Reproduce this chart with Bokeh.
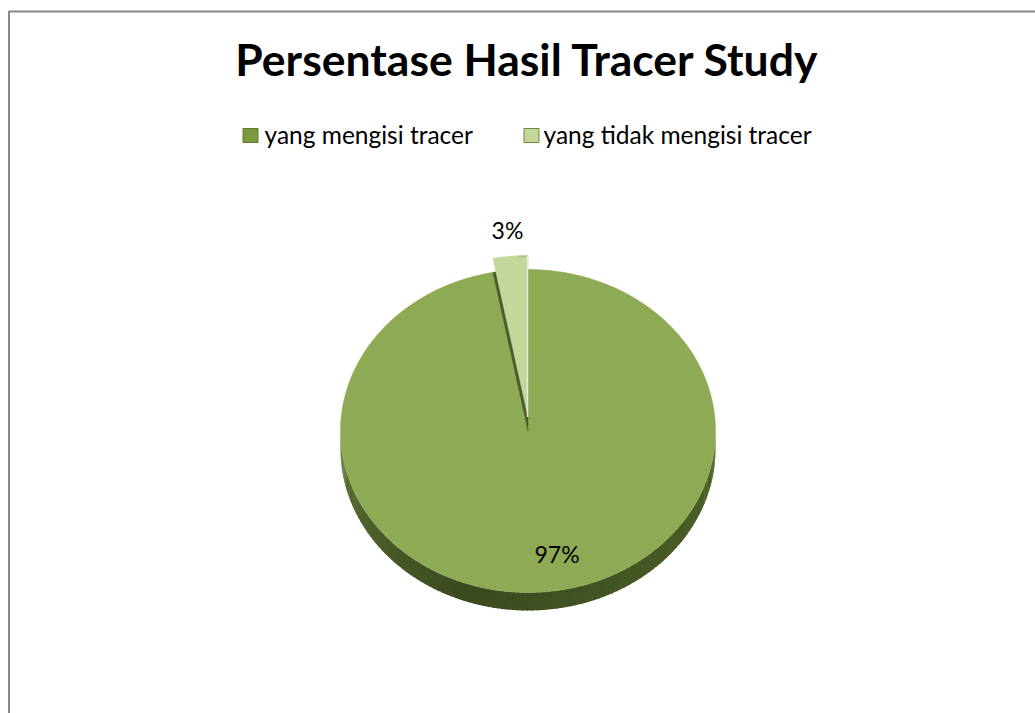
import numpy as np
from bokeh.plotting import figure
from bokeh.models import Range1d
from bokeh.core.properties import value
from bokeh.embed import file_html
from bokeh.resources import INLINE

# ---- data ----
title = "Persentase Hasil Tracer Study"
categories = ["yang mengisi tracer", "yang tidak mengisi  tracer"]
values = [97, 3]
labels = ["97%", "3%"]

# ---- style / layout ----
W, H = 1035, 713
top_colors = ["#8faa55", "#c4d79b"]
legend_fill = ["#7b9a40", "#c4d79b"]
legend_line = ["#5f7a2e", "#6f8a3a"]
FONT = "Lato"

cx, cy, rx, ry, depth = 527.5, 430.5, 187.5, 161.5, 18
explode = [0, 14]

p = figure(width=W, height=H, output_backend="svg", toolbar_location=None,
           x_range=Range1d(0, W), y_range=Range1d(H, 0),
           min_border=0, outline_line_color=None)
p.axis.visible = False
p.grid.visible = False
p.background_fill_color = "white"
p.border_fill_color = "white"

# chart area border (top and left visible)
p.line([8.5, 8.5, W], [H, 11, 11], line_color="#878787", line_width=2)

def pt(t_deg, dy=0.0):
    t = np.radians(t_deg)
    return cx + rx * np.sin(t), cy - ry * np.cos(t) + dy

total = float(sum(values))
cum = np.cumsum([0] + values) / total * 360.0
starts, ends = cum[:-1], cum[1:]

def mix(c1, c2, f):
    a = [int(c1[i:i + 2], 16) for i in (1, 3, 5)]
    b = [int(c2[i:i + 2], 16) for i in (1, 3, 5)]
    f = min(max(f, 0.0), 1.0)
    return "#%02x%02x%02x" % tuple(int(round(a[k] + (b[k] - a[k]) * f)) for k in range(3))

# side band (front half of the pie) with shading
nseg = 120
ts = np.linspace(90, 270, nseg + 1)
xs_side, ys_side, cols_side = [], [], []
for i in range(nseg):
    t0, t1 = ts[i], ts[i + 1] + 0.4
    tm = 0.5 * (ts[i] + ts[i + 1])
    seg = np.linspace(t0, min(t1, 270), 4)
    x_top, y_top = pt(seg)
    xs_side.append(list(x_top) + list(x_top[::-1]))
    ys_side.append(list(y_top) + list((y_top + depth)[::-1]))
    if tm < 200:
        c = mix("#4f6328", "#3c4a1f", (tm - 90) / 110)
    else:
        c = mix("#3c4a1f", "#5c7232", (tm - 200) / 70)
    cols_side.append(c)
p.patches(xs_side, ys_side, fill_color=cols_side, line_color=None)

# top surface of the main slice
for i, (s, e) in enumerate(zip(starts, ends)):
    if explode[i] == 0:
        arc = np.linspace(s, e, 240)
        ax, ay = pt(arc)
        p.patch([cx] + list(ax), [cy] + list(ay), fill_color=top_colors[i],
                line_color=top_colors[i], line_width=0.5)

# exploded slices: dark gap underneath, then lifted slice
for i, (s, e) in enumerate(zip(starts, ends)):
    if explode[i] != 0:
        arc = np.linspace(s, e, 40)
        ax, ay = pt(arc)
        p.patch([cx] + list(ax), [cy] + list(ay), fill_color="#4a5a2a",
                line_color="#4a5a2a", line_width=0.5)
        ax2, ay2 = pt(arc, -explode[i])
        p.patch([cx] + list(ax2), [cy - explode[i]] + list(ay2),
                fill_color=top_colors[i], line_color=top_colors[i], line_width=0.5)
        p.line(list(ax2[-12:]), list(ay2[-12:] + 1.0), line_color="#b4c48e", line_width=2)
        ex, ey = pt(e, -explode[i])
        p.line([cx - 0.5, ex - 0.5], [cy - explode[i], ey], line_color="#e2ead0", line_width=1.5)

# data labels
lab_factor = [0.768, 1.166]
lab_dx = [15.5, 0]
for i, (s, e) in enumerate(zip(starts, ends)):
    m = np.radians(0.5 * (s + e))
    lx = cx + lab_factor[i] * rx * np.sin(m) + lab_dx[i]
    ly = cy - explode[i] - lab_factor[i] * ry * np.cos(m)
    p.text([lx], [ly], text=[labels[i]], text_align="center", text_baseline="middle",
           text_font=value(FONT), text_font_size="23px", text_color="#000000")

# title
p.text([527], [58], text=[title], text_align="center", text_baseline="middle",
       text_font=value(FONT), text_font_size="44.5px", text_font_style="bold",
       text_color="#000000")

# legend
leg_x = [250, 531]
leg_text_x = [264, 543]
for i, cat in enumerate(categories):
    p.rect([leg_x[i]], [135], width=15, height=14, fill_color=legend_fill[i],
           line_color=legend_line[i], line_width=1)
    p.text([leg_text_x[i]], [134], text=[cat], text_align="left",
           text_baseline="middle", text_font=value(FONT),
           text_font_size="24.5px", text_color="#000000")

open("out.html", "w").write(file_html(p, INLINE))
